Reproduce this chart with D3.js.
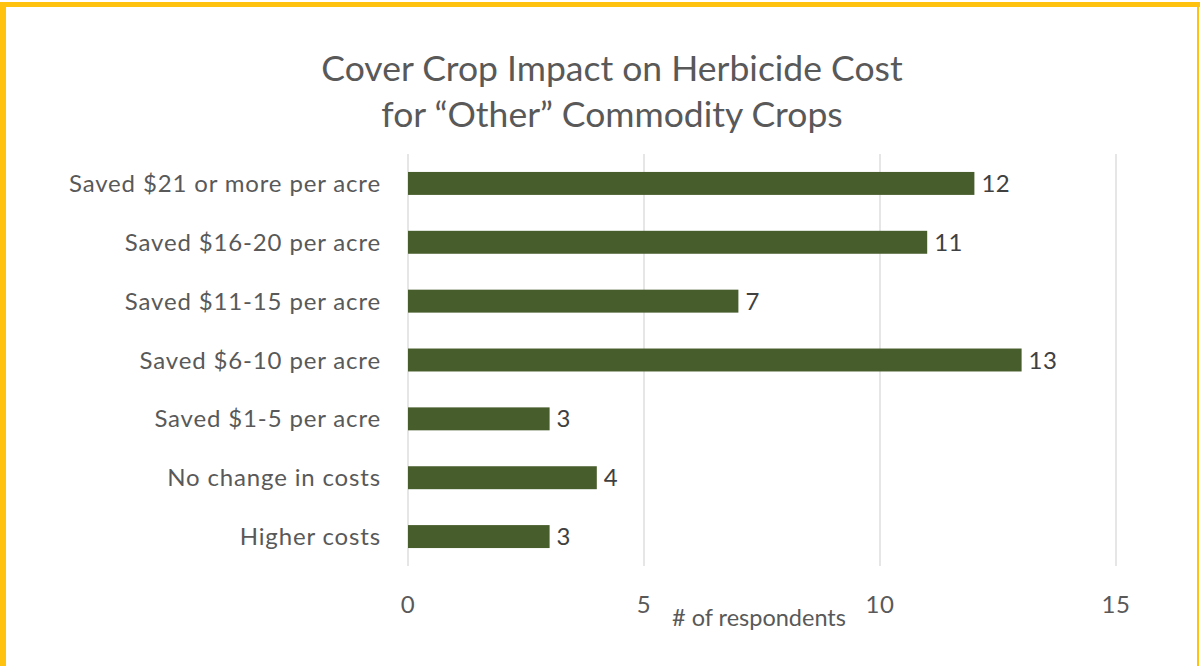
<!DOCTYPE html>
<html><head><meta charset="utf-8">
<script src="https://cdn.jsdelivr.net/npm/d3@7"></script>
<style>html,body{margin:0;padding:0;background:#fff}svg{display:block}</style>
</head><body>
<script>
const categories = ["Saved $21 or more per acre","Saved $16-20 per acre","Saved $11-15 per acre","Saved $6-10 per acre","Saved $1-5 per acre","No change in costs","Higher costs"];
const values = [12, 11, 7, 13, 3, 4, 3];
const xTicks = [0, 5, 10, 15];
const titleLines = ["Cover Crop Impact on Herbicide Cost", "for \u201cOther\u201d Commodity Crops"];
const xAxisTitle = "# of respondents";

const W = 1200, H = 666;
const font = "Lato, 'Open Sans', sans-serif";
const svg = d3.select("body").append("svg").attr("width", W).attr("height", H);
svg.append("rect").attr("width", W).attr("height", H).attr("fill", "#fff");
// border
svg.append("rect").attr("x", 0).attr("y", 2).attr("width", 6).attr("height", H - 2).attr("fill", "#FFC20E");
svg.append("rect").attr("x", 0).attr("y", 2).attr("width", W).attr("height", 5).attr("fill", "#FFC20E");
svg.append("rect").attr("x", 1197).attr("y", 2).attr("width", 2).attr("height", H - 2).attr("fill", "#FFC20E");

const x = d3.scaleLinear().domain([0, 15]).range([408, 1116]);
const y = d3.scaleBand().domain(categories).range([154, 566]).paddingInner(0.61).paddingOuter(0.305);

// gridlines
svg.append("g").selectAll("line").data(xTicks).join("line")
  .attr("x1", d => x(d)).attr("x2", d => x(d)).attr("y1", 154).attr("y2", 566)
  .attr("stroke", "#d9d9d9").attr("stroke-width", 1.3);

// bars
svg.append("g").selectAll("rect").data(values).join("rect")
  .attr("x", x(0)).attr("y", (d, i) => y(categories[i]))
  .attr("width", d => x(d) - x(0)).attr("height", y.bandwidth())
  .attr("fill", "#475d2c");

// value labels
svg.append("g").selectAll("text").data(values).join("text")
  .attr("x", d => x(d) + 7).attr("y", (d, i) => y(categories[i]) + y.bandwidth() / 2)
  .attr("dy", "0.36em").attr("font-family", font).attr("font-size", 24).attr("fill", "#404040")
  .attr("letter-spacing", 0.5)
  .text(d => d);

// category axis labels
svg.append("g").selectAll("text").data(categories).join("text")
  .attr("x", 381).attr("y", d => y(d) + y.bandwidth() / 2).attr("dy", "0.36em")
  .attr("text-anchor", "end").attr("font-family", font).attr("font-size", 24).attr("fill", "#595959")
  .attr("letter-spacing", 0.85)
  .text(d => d);

// x tick labels
svg.append("g").selectAll("text").data(xTicks).join("text")
  .attr("x", d => x(d)).attr("y", 613).attr("text-anchor", "middle")
  .attr("font-family", font).attr("font-size", 24).attr("fill", "#595959")
  .attr("letter-spacing", 0.5).text(d => d);

svg.append("text").attr("x", 759).attr("y", 626).attr("text-anchor", "middle")
  .attr("font-family", font).attr("font-size", 23.5).attr("fill", "#595959").text(xAxisTitle);

svg.append("g").selectAll("text").data(titleLines).join("text")
  .attr("x", 612).attr("y", (d, i) => 81 + i * 46).attr("text-anchor", "middle")
  .attr("font-family", font).attr("font-size", 35.5).attr("fill", "#595959").text(d => d);
</script>
</body></html>
